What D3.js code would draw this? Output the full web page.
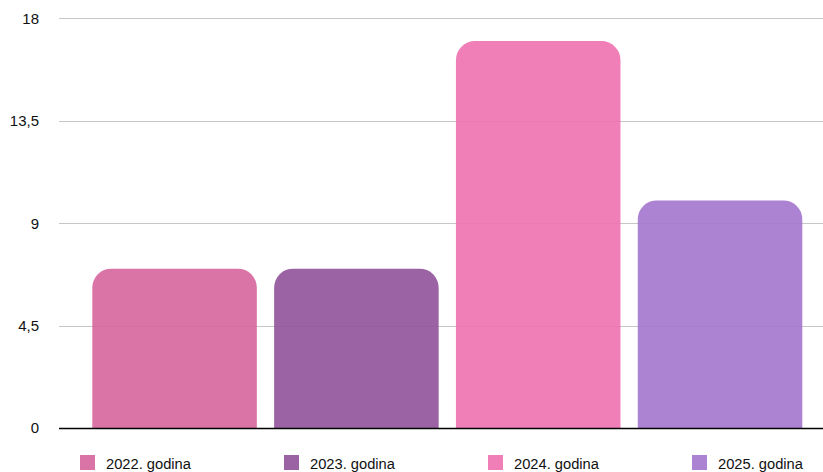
<!DOCTYPE html>
<html><head><meta charset="utf-8">
<script src="https://cdn.jsdelivr.net/npm/d3@7"></script>
<style>body{margin:0;background:#fff}svg{display:block;font-family:"Liberation Sans",Arial,sans-serif}</style>
</head><body><svg id="c" width="823" height="472"></svg>
<script>
const categories = ["2022. godina","2023. godina","2024. godina","2025. godina"];
const values = [7, 7, 17, 10];
const colors = ["#D7659C","#90519A","#EF71AF","#A376CD"];
const tickValues = [0, 4.5, 9, 13.5, 18];

const svg = d3.select("#c");
const W = 823;
const y = d3.scaleLinear().domain([0,18]).range([428,18.3]);
const x = d3.scaleBand().domain(categories).range([83.65,810.95]).paddingInner(0.095).paddingOuter(0.0475);

// gridlines
svg.append("g").selectAll("line").data(tickValues.filter(d=>d>0)).join("line")
  .attr("x1",59).attr("x2",W).attr("y1",d=>Math.round(y(d))+0.5).attr("y2",d=>Math.round(y(d))+0.5)
  .attr("stroke","#c6c6c6").attr("stroke-width",1);

// tick labels
svg.append("g").selectAll("text").data(tickValues).join("text")
  .attr("x",39).attr("y",d=>y(d)).attr("dy","0.36em").attr("text-anchor","end")
  .attr("font-size",15).attr("fill","#111")
  .text(d=>String(d).replace(".",","));

// bars with rounded top corners
const r = 19;
function barPath(x0,w,yt,yb){
  return `M${x0},${yb}V${yt+r}A${r},${r} 0 0 1 ${x0+r},${yt}H${x0+w-r}A${r},${r} 0 0 1 ${x0+w},${yt+r}V${yb}Z`;
}
svg.append("g").selectAll("path").data(categories).join("path")
  .attr("d",(c,i)=>barPath(x(c),x.bandwidth(),y(values[i]),y(0)))
  .attr("fill",(c,i)=>colors[i]).attr("fill-opacity",0.9);

// baseline
svg.append("line").attr("x1",59).attr("x2",W).attr("y1",428.5).attr("y2",428.5)
  .attr("stroke","#000").attr("stroke-width",1.4);

// legend
const lg = svg.append("g").selectAll("g").data(categories).join("g")
  .attr("transform",(c,i)=>`translate(${80+i*204},455)`);
lg.append("rect").attr("width",15).attr("height",15).attr("fill",(c,i)=>colors[i]).attr("fill-opacity",0.9);
lg.append("text").attr("x",26).attr("y",13.5).attr("font-size",14.7).attr("fill","#111").text(c=>c);
</script></body></html>
